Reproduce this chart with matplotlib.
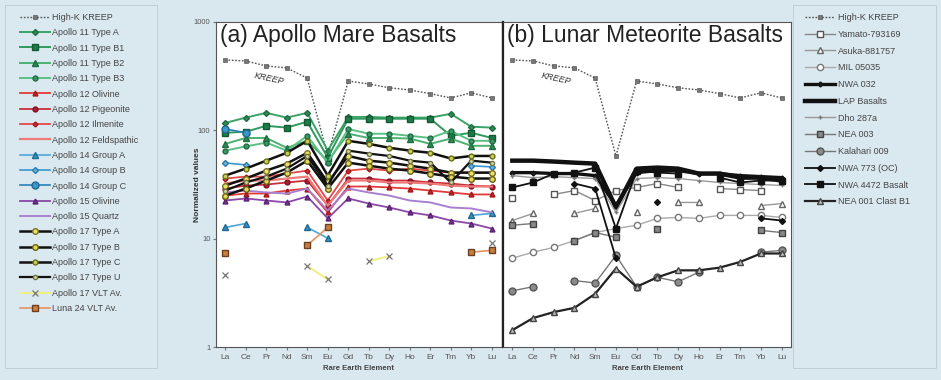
import numpy as np
import matplotlib.pyplot as plt
from matplotlib.patches import Rectangle

plt.rcParams['font.family'] = ['Liberation Sans', 'DejaVu Sans']

nan = np.nan
ree = ['La', 'Ce', 'Pr', 'Nd', 'Sm', 'Eu', 'Gd', 'Tb', 'Dy', 'Ho', 'Er', 'Tm', 'Yb', 'Lu']

# chondrite-normalised REE values
kreep = [446, 437, 393, 377, 303, 58, 285, 268, 247, 236, 218, 199, 222, 199]

# (a) Apollo mare basalts
a11_a = [117, 131, 145, 131, 145, 65, 133, 133, 131, 131, 131, 142, 108, 106]
a11_b1 = [95, 97, 110, 106, 120, 56, 128, 128, 128, 128, 128, 89, 95, 85]
a11_b2 = [75, 85, 85, 69, 80, 52, 93, 85, 85, 84, 75, 84, 72, 72]
a11_b3 = [65, 71, 77, 65, 89, 50, 103, 93, 93, 89, 85, 99, 80, 80]
a12_ol = [25.0, 26.1, 26.1, 27.8, 29.0, 17.5, 30.3, 30.3, 29.7, 29.0, 27.8, 26.7, 25.6, 25.6]
a12_pig = [29.0, 30.9, 31.6, 33.0, 34.4, 20.2, 35.9, 35.9, 34.4, 34.4, 33.0, 32.3, 30.9, 30.3]
a12_ilm = [35.9, 37.4, 37.4, 39.9, 42.5, 22.5, 42.5, 44.3, 42.5, 44.3, 42.5, 40.7, 40.7, 40.7]
a12_feld = [32.3, 34.4, 34.4, 35.9, 37.4, 20.2, 34.4, 34.4, 33.0, 33.0, 32.3, 30.9, 30.3, 30.3]
a14_a = [12.7, 13.8, nan, nan, 12.7, 10.1, nan, nan, nan, nan, nan, nan, 16.4, 17.1]
a14_b = [50, 48, nan, nan, nan, nan, nan, nan, nan, nan, nan, nan, 47, 46]
a14_c = [103, 95, nan, nan, nan, nan, nan, nan, nan, nan, nan, nan, nan, nan]
a15_ol = [22.5, 23.5, 22.5, 21.6, 24.5, 15.4, 23.5, 21.1, 19.4, 17.5, 16.4, 14.7, 13.8, 12.4]
a15_qz = [26.7, 27.8, 26.7, 26.1, 29.0, 18.2, 29.0, 26.7, 25.0, 22.5, 21.6, 19.4, 19.0, 17.5]
a17_a = [30.9, 35.9, 42.5, 49.3, 62, 33.0, 58, 52.5, 50.3, 47.2, 44.3, 40.7, 40.7, 40.7]
a17_b = [25.0, 29.0, 34.4, 40.7, 52.5, 29.0, 50.3, 47.2, 44.3, 42.5, 39.9, 37.4, 35.9, 35.9]
a17_c = [38.2, 44.3, 52.5, 62, 80, 38.2, 80, 75, 69, 65, 62, 55, 58, 58]
a17_u = [27.8, 33.0, 37.4, 44.3, 58, 30.9, 65, 61, 58, 52.5, 50.3, 33.0, 52.5, 50.3]
a17_vlt = [4.6, nan, nan, nan, 5.6, 4.2, nan, 6.2, 6.9, nan, nan, nan, nan, 9.1]
luna24 = [7.3, nan, nan, nan, 8.7, 12.7, nan, nan, nan, nan, nan, nan, 7.5, 7.8]

# (b) lunar meteorite basalts
yamato = [23.5, nan, 25.6, 27.8, 22.5, 27.8, 29.7, 32.3, 29.7, nan, 29.0, 28.4, 27.8, nan]
asuka = [14.7, 17.1, nan, 17.1, 19.0, nan, 17.5, nan, 21.6, 21.6, nan, nan, 20.2, 21.1]
mil = [6.6, 7.5, 8.3, 9.6, 11.4, 12.4, 13.3, 15.4, 15.7, 15.4, 16.4, 16.4, 16.4, 15.7]
nwa032 = [40.7, 40.7, 39.9, 39.9, 38.2, 20.2, 40.7, 42.5, 42.5, 39.9, 39.9, 38.2, 37.4, 36.6]
lap = [52.5, 52.5, 51.5, 50.3, 49.3, 19.4, 44.3, 45.3, 44.3, 39.9, 39.9, 36.6, 36.6, 34.4]
dho287 = [38.2, 36.6, 37.4, 36.6, 35.9, 17.5, 35.9, 36.6, 35.9, 34.4, 33.0, 32.3, 31.6, 31.0]
nea003 = [13.3, 13.8, nan, 9.6, 11.4, 10.3, nan, 12.4, nan, nan, nan, nan, 11.9, 11.4]
kalahari = [3.3, 3.6, nan, 4.1, 3.9, 7.0, 3.6, 4.4, 4.0, 4.9, nan, nan, 7.5, 7.8]
nwa773 = [nan, nan, nan, 32.3, 29.0, 6.6, nan, 21.6, nan, nan, nan, nan, 15.4, 14.7]
nwa4472 = [29.7, 33.0, 39.9, 40.7, 45.3, 12.4, 42.5, 40.7, 39.9, nan, 36.6, 33.0, 34.4, 34.4]
nea001 = [1.43, 1.85, 2.1, 2.3, 3.1, 5.3, 3.6, 4.4, 5.1, 5.1, 5.4, 6.1, 7.3, 7.3]

bg = '#d9e7ee'
kreep_style = dict(color='#555555', ls=(0, (1.2, 1.2)), lw=1.0, marker='s', ms=2.5,
                   mfc='#777777', mec='#444444', mew=0.4)

series_a = [
    ('Apollo 11 Type A', a11_a, dict(color='#3aa366', marker='D', ms=3, mfc='#2e8b57', mec='#1f6b40', lw=1.4)),
    ('Apollo 11 Type B1', a11_b1, dict(color='#2f9a5c', marker='s', ms=4.5, mfc='#1f7a4a', mec='#135a33', lw=1.4)),
    ('Apollo 11 Type B2', a11_b2, dict(color='#4cb070', marker='^', ms=4, mfc='#2e8b57', mec='#1f6b40', lw=1.4)),
    ('Apollo 11 Type B3', a11_b3, dict(color='#5cbf86', marker='o', ms=3.5, mfc='#3a9a6a', mec='#1f6b40', lw=1.4)),
    ('Apollo 12 Olivine', a12_ol, dict(color='#e23a3a', marker='^', ms=3.5, mfc='#c02828', mec='#a01818', lw=1.3)),
    ('Apollo 12 Pigeonite', a12_pig, dict(color='#c8303c', marker='o', ms=3.5, mfc='#a82030', mec='#801020', lw=1.3)),
    ('Apollo 12 Ilmenite', a12_ilm, dict(color='#e44848', marker='D', ms=2.5, mfc='#d03030', mec='#a01818', lw=1.3)),
    ('Apollo 12 Feldspathic', a12_feld, dict(color='#f07a7a', marker='', lw=1.6)),
    ('Apollo 14 Group A', a14_a, dict(color='#4aa8d8', marker='^', ms=5, mfc='#3a90c0', mec='#1f6890', lw=1.2)),
    ('Apollo 14 Group B', a14_b, dict(color='#3a96cc', marker='D', ms=3, mfc='#68b8e0', mec='#2a78a8', lw=1.2)),
    ('Apollo 14 Group C', a14_c, dict(color='#2a80b8', marker='o', ms=5, mfc='#3a98c8', mec='#1f6890', lw=1.2)),
    ('Apollo 15 Olivine', a15_ol, dict(color='#8a48a8', marker='^', ms=3.5, mfc='#7a3898', mec='#5a2070', lw=1.3)),
    ('Apollo 15 Quartz', a15_qz, dict(color='#a880d0', marker='', lw=1.4)),
    ('Apollo 17 Type A', a17_a, dict(color='#111111', marker='o', ms=4, mfc='#e8e070', mec='#7a7020', lw=1.8)),
    ('Apollo 17 Type B', a17_b, dict(color='#111111', marker='o', ms=4, mfc='#e0d860', mec='#6a6010', lw=1.8)),
    ('Apollo 17 Type C', a17_c, dict(color='#111111', marker='o', ms=3.5, mfc='#c8d060', mec='#6a7010', lw=1.8)),
    ('Apollo 17 Type U', a17_u, dict(color='#111111', marker='o', ms=3, mfc='#d8e0a0', mec='#707040', lw=1.6)),
    ('Apollo 17 VLT Av.', a17_vlt, dict(color='#f0f080', marker='x', ms=4.5, mec='#777777', mew=0.9, lw=1.4)),
    ('Luna 24 VLT Av.', luna24, dict(color='#e89060', marker='s', ms=4.5, mfc='#c88040', mec='#6a4020', lw=1.2)),
]

series_b = [
    ('Yamato-793169', yamato, dict(color='#888888', marker='s', ms=4.5, mfc='white', mec='#555555', lw=1.0)),
    ('Asuka-881757', asuka, dict(color='#999999', marker='^', ms=4.5, mfc='white', mec='#666666', lw=1.0)),
    ('MIL 05035', mil, dict(color='#aaaaaa', marker='o', ms=4.5, mfc='white', mec='#777777', lw=1.0)),
    ('NWA 032', nwa032, dict(color='#111111', marker='D', ms=2.5, mfc='#222222', mec='#111111', lw=2.4)),
    ('LAP Basalts', lap, dict(color='#111111', marker='', lw=3.2)),
    ('Dho 287a', dho287, dict(color='#9a9a9a', marker='+', ms=3.5, mec='#777777', lw=1.0)),
    ('NEA 003', nea003, dict(color='#777777', marker='s', ms=4.5, mfc='#888888', mec='#444444', lw=1.0)),
    ('Kalahari 009', kalahari, dict(color='#777777', marker='o', ms=5, mfc='#8a8a8a', mec='#555555', lw=1.0)),
    ('NWA 773 (OC)', nwa773, dict(color='#111111', marker='D', ms=3, mfc='#111111', mec='#111111', lw=1.3)),
    ('NWA 4472 Basalt', nwa4472, dict(color='#111111', marker='s', ms=4.5, mfc='#111111', mec='#111111', lw=1.3)),
    ('NEA 001 Clast B1', nea001, dict(color='#222222', marker='^', ms=4, mfc='#bbbbbb', mec='#444444', lw=1.6)),
]

fig = plt.figure(figsize=(9.41, 3.80), dpi=100, facecolor=bg)
W, H = 941, 380
ax_a = fig.add_axes([216 / W, 1 - 347 / H, 285 / W, 325 / H])
ax_b = fig.add_axes([503 / W, 1 - 347 / H, 288 / W, 325 / H])

x = np.arange(len(ree))
for ax, series, title in [(ax_a, series_a, '(a) Apollo Mare Basalts'),
                          (ax_b, series_b, '(b) Lunar Meteorite Basalts')]:
    ax.set_yscale('log')
    ax.set_ylim(1, 1000)
    ax.set_xlim(-0.45, 13.45)
    ax.plot(x, kreep, label='High-K KREEP', zorder=2, **kreep_style)
    for i, (lab, vals, st) in enumerate(series):
        ax.plot(x, vals, label=lab, zorder=3 + i * 0.01, **st)
    ax.set_xticks(x)
    ax.set_xticklabels(ree, fontsize=6, color='#555555')
    ax.tick_params(axis='x', length=2, color='#777777', pad=3)
    ax.minorticks_off()
    ax.set_xlabel('Rare Earth Element', fontsize=5.5, fontweight='bold', color='#444444', labelpad=3)
    ax.text(0.015, 0.995, title, transform=ax.transAxes, va='top', ha='left', fontsize=16.5, color='#222222')
    ax.text(1.35, 300, 'KREEP', fontsize=6.5, style='italic', rotation=-12, color='#333333',
            ha='left', va='center')
    for s in ax.spines.values():
        s.set_color('#555555')
        s.set_linewidth(0.8)

ax_a.set_yticks([1, 10, 100, 1000])
ax_a.set_yticklabels(['1', '10', '100', '1000'], fontsize=5.5, color='#555555')
ax_a.tick_params(axis='y', which='both', length=2, color='#777777', pad=2)
ax_a.set_ylabel('Normalized values', fontsize=6, fontweight='bold', color='#333333')
ax_a.yaxis.set_label_coords(-15 / 285, 0.5)
ax_b.set_yticks([1, 10, 100, 1000])
ax_b.set_yticklabels([])
ax_b.tick_params(axis='y', length=0)
ax_b.spines['left'].set_linewidth(1.6)
ax_b.spines['left'].set_color('#222222')
ax_a.spines['right'].set_visible(False)

# legend boxes
for x0, x1 in [(5, 157), (793, 936)]:
    fig.patches.append(Rectangle((x0 / W, 1 - 368 / H), (x1 - x0) / W, 363 / H,
                                 transform=fig.transFigure, facecolor='#dae8ef',
                                 edgecolor='#b9cbd4', lw=0.6, zorder=0))

h, l = ax_a.get_legend_handles_labels()
fig.legend(h, l, loc='upper left', bbox_to_anchor=(20 / W, 1 - 13 / H), frameon=False,
           fontsize=6.5, labelspacing=0.7, handlelength=3.3, handletextpad=0.3,
           borderaxespad=0, borderpad=0, labelcolor='#444444')
h, l = ax_b.get_legend_handles_labels()
fig.legend(h, l, loc='upper left', bbox_to_anchor=(805 / W, 1 - 13 / H), frameon=False,
           fontsize=6.5, labelspacing=0.86, handlelength=3.3, handletextpad=0.3,
           borderaxespad=0, borderpad=0, labelcolor='#444444')

fig.savefig('out.png', dpi=100, facecolor=bg)
